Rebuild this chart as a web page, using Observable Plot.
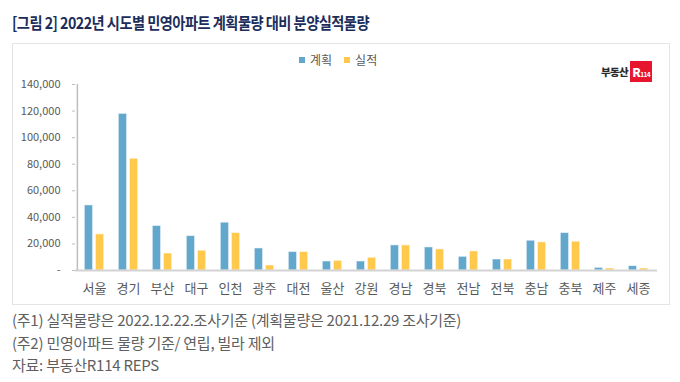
<!DOCTYPE html>
<html>
<head>
<meta charset="utf-8">
<script src="https://cdn.jsdelivr.net/npm/d3@7"></script>
<script src="https://cdn.jsdelivr.net/npm/@observablehq/plot@0.6"></script>
<style>
  html, body { margin: 0; padding: 0; background: #fff; }
  body { width: 680px; height: 382px; position: relative; overflow: hidden; font-family: "Noto Sans CJK KR", "Noto Sans", sans-serif; }
  #title { position: absolute; left: 12px; top: 10px; font-size: 16px; font-weight: 700; color: #1c2d5a; letter-spacing: -0.6px; white-space: nowrap; transform: scaleX(0.89); transform-origin: left top; }
  #box { position: absolute; left: 12px; top: 43px; width: 656px; height: 260px; border: 1.5px solid #e4e4e4; }
  #chart { position: absolute; left: 0; top: 43px; }
  #legend { position: absolute; top: 51px; left: 299px; font-size: 12px; color: #595959; white-space: nowrap; }
  #legend span.sw { display: inline-block; width: 6px; height: 6px; margin-right: 5px; vertical-align: 2px; }
  #legend span.item { margin-right: 12px; }
  #logo { position: absolute; left: 601px; top: 61px; height: 21px; display: flex; align-items: center; white-space: nowrap; }
  #logo .t { font-size: 10.5px; font-weight: 900; color: #2a2a2a; letter-spacing: -0.6px; line-height: 10px; }
  #logo .r { width: 22px; height: 21px; background: #e8152e; color: #fff; font-size: 10px; font-weight: 700; line-height: 21px; text-align: center; margin-left: 2px; letter-spacing: -0.5px; }
  #logo .r b { font-size: 12px; }
  #logo .r small { font-size: 6.5px; }
  #notes { position: absolute; left: 12px; top: 309px; font-size: 15px; color: #5f5f5f; line-height: 22.5px; letter-spacing: -0.25px; white-space: nowrap; }
</style>
</head>
<body>
<div id="title"></div>
<div id="box"></div>
<div id="chart"></div>
<div id="legend"></div>
<div id="logo"><span class="t">부동산</span><span class="r"><b>R</b><small>114</small></span></div>
<div id="notes"></div>
<script>
const titleText = "[그림 2] 2022년 시도별 민영아파트 계획물량 대비 분양실적물량";
const regions = ["서울","경기","부산","대구","인천","광주","대전","울산","강원","경남","경북","전남","전북","충남","충북","제주","세종"];
const series = ["계획","실적"];
const plan =   [49000,117900,33500,25900,36000,16600,13900,6800,6800,18900,17400,10300,8300,22400,28200,2000,3300];
const actual = [27200, 84100,12800,14900,28200, 3800,13900,7300,9600,18900,15900,14400,8300,21200,21700,1500,1500];
const yTicks = [0,20000,40000,60000,80000,100000,120000,140000];
const colors = ["#62a8cd","#ffc94d"];
const notes = [
  "(주1) 실적물량은 2022.12.22.조사기준 (계획물량은 2021.12.29 조사기준)",
  "(주2) 민영아파트 물량 기준/ 연립, 빌라 제외",
  "자료: 부동산R114 REPS"
];

document.getElementById("title").textContent = titleText;
document.getElementById("notes").innerHTML = notes.map(n => `<div>${n}</div>`).join("");
document.getElementById("legend").innerHTML = series.map((s, i) =>
  `<span class="item"><span class="sw" style="background:${colors[i]}"></span>${s}</span>`).join("");

const planData = regions.map((r, i) => ({region: r, value: plan[i]}));
const actualData = regions.map((r, i) => ({region: r, value: actual[i]}));

const W = 680, ML = 75, MR = 23;
const step = (W - ML - MR) / regions.length;
const fmt = d3.format(",");
const barStyle = {stroke: "#ffffff", strokeOpacity: 0.55, strokeWidth: 1};
const chart = Plot.plot({
  width: W,
  height: 262,
  marginLeft: ML,
  marginRight: MR,
  marginTop: 41,
  marginBottom: 35,
  style: {fontFamily: "'Noto Sans CJK KR', 'Noto Sans', sans-serif", background: "transparent", overflow: "visible"},
  x: {domain: regions, padding: 0, axis: null},
  y: {domain: [0, 140000], axis: null},
  marks: [
    Plot.barY(planData, {x: "region", y: "value", fill: colors[0], insetLeft: 7.3, insetRight: 18.4, ...barStyle}),
    Plot.barY(actualData, {x: "region", y: "value", fill: colors[1], insetLeft: 18.4, insetRight: 7.3, ...barStyle}),
    Plot.ruleY([0], {stroke: "#d3d3d3", strokeWidth: 2}),
    Plot.ruleX([regions[0]], {dx: -step / 2, stroke: "#bdbdbd", strokeWidth: 1.5, strokeOpacity: 1}),
    Plot.axisY({ticks: yTicks, tickSize: 3, tickPadding: 12, stroke: "#bdbdbd", fontSize: 11, fill: "#595959", label: null,
      tickFormat: d => d === 0 ? "-" : fmt(d)}),
    Plot.axisX({anchor: "bottom", tickSize: 0, tickPadding: 13, fontSize: 13, fill: "#595959", label: null})
  ]
});
document.getElementById("chart").appendChild(chart);
</script>
</body>
</html>
